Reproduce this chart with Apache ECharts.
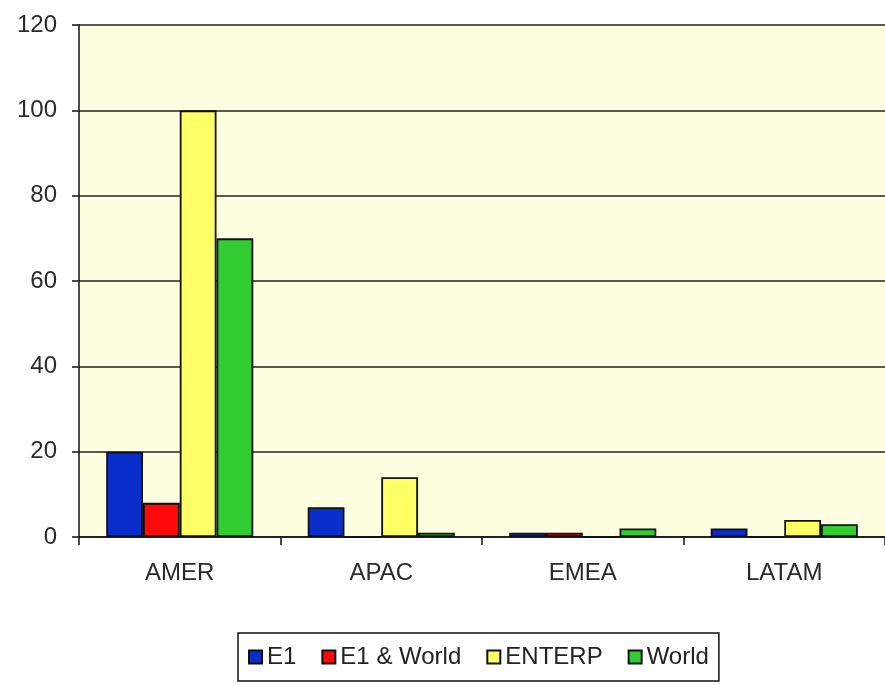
<!DOCTYPE html>
<html>
<head>
<meta charset="utf-8">
<script src="https://cdn.jsdelivr.net/npm/echarts@6/dist/echarts.min.js"></script>
<style>html,body{margin:0;padding:0;background:#fff;}#c{width:885px;height:685px;}</style>
</head>
<body>
<div id="c"></div>
<script>
const categories = ['AMER', 'APAC', 'EMEA', 'LATAM'];
const seriesNames = ['E1', 'E1 & World', 'ENTERP', 'World'];
const e1 = [20, 7, 1, 2];
const e1World = [8, 0, 1, 0];
const enterp = [100, 14, 0, 4];
const world = [70, 1, 2, 3];
const yTicks = [0, 20, 40, 60, 80, 100, 120];
const colors = ['#0A2ECC', '#FF0A0A', '#FFFF66', '#33CC33'];

const values = [e1, e1World, enterp, world];
const chart = echarts.init(document.getElementById('c'), null, {renderer: 'canvas'});
const font = "'Liberation Sans', Arial, sans-serif";
chart.setOption({
  animation: false,
  backgroundColor: '#ffffff',
  grid: {
    left: 79, top: 25, width: 809, height: 512,
    show: true, backgroundColor: '#FFFEE0', borderWidth: 0, containLabel: false
  },
  legend: {
    data: seriesNames,
    left: 238, top: 633,
    orient: 'horizontal',
    itemWidth: 13, itemHeight: 13, itemGap: 25,
    padding: [12, 10, 12, 10],
    borderColor: '#111', borderWidth: 1.5,
    backgroundColor: '#ffffff',
    icon: 'rect',
    textStyle: {fontFamily: font, fontSize: 24, color: '#222'}
  },
  xAxis: {
    type: 'category',
    data: categories,
    axisLine: {show: true, lineStyle: {color: '#111', width: 1.5}},
    axisTick: {show: true, length: 8, lineStyle: {color: '#111', width: 1.5}},
    axisLabel: {fontFamily: font, fontSize: 24, color: '#2a2a2a', margin: 24},
    splitLine: {show: false}
  },
  yAxis: {
    type: 'value',
    min: yTicks[0], max: yTicks[yTicks.length - 1], interval: 20,
    axisLine: {show: true, lineStyle: {color: '#111', width: 1.5}},
    axisTick: {show: true, length: 7, lineStyle: {color: '#111', width: 1.5}},
    axisLabel: {fontFamily: font, fontSize: 24, color: '#2a2a2a', margin: 22},
    splitLine: {show: true, lineStyle: {color: '#222', width: 1.5}}
  },
  series: seriesNames.map((name, i) => ({
    name: name,
    type: 'bar',
    data: values[i],
    barGap: '0%',
    barCategoryGap: '27%',
    itemStyle: {color: colors[i], borderColor: '#111', borderWidth: 1.8}
  }))
});
</script>
</body>
</html>
